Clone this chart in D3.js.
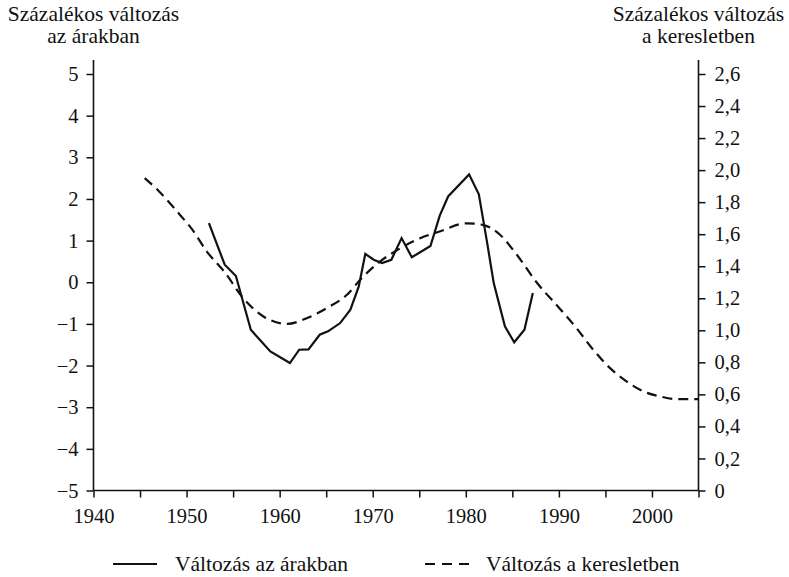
<!DOCTYPE html>
<html>
<head>
<meta charset="utf-8">
<script src="https://cdn.jsdelivr.net/npm/d3@7/dist/d3.min.js"></script>
<style>
  body { margin: 0; background: #fff; }
  svg text { font-family: 'Liberation Serif', 'DejaVu Serif', serif; fill: #111; }
</style>
</head>
<body>
<script>
    //Width and height
    var w = 789;
    var h = 577;
    var serif = "'Liberation Serif', 'DejaVu Serif', serif";

    //Data - price change (left axis)
    var priceYears = [1952.4, 1954.1, 1955.3, 1956.9, 1959.0, 1961.1, 1962.1, 1963.1, 1964.3, 1965.2,
                      1966.5, 1967.6, 1968.5, 1969.2, 1970.1, 1971.0, 1972.0, 1973.1, 1974.2, 1976.2,
                      1977.2, 1978.1, 1980.35, 1981.4, 1982.3, 1983.0, 1984.2, 1985.2, 1986.3, 1987.2];
    var priceValues = [1.42, 0.42, 0.15, -1.14, -1.66, -1.94, -1.62, -1.61, -1.26, -1.18,
                       -0.98, -0.66, -0.10, 0.68, 0.54, 0.46, 0.54, 1.06, 0.60, 0.87,
                       1.60, 2.06, 2.59, 2.11, 0.94, -0.02, -1.06, -1.44, -1.14, -0.26];

    //Data - demand change (right axis)
    var demandYears = [1945.5, 1947.0, 1949.3, 1950.6, 1952.2, 1954.0, 1956.1, 1958.3, 1960.8, 1962.9,
                       1965.1, 1967.2, 1968.8, 1970.8, 1972.9, 1975.1, 1977.1, 1980.1, 1981.9, 1983.7,
                       1985.5, 1987.6, 1990.1, 1991.9, 1993.7, 1995.5, 1997.3, 1999.1, 2000.9, 2002.7, 2005.0];
    var demandValues = [1.95, 1.87, 1.72, 1.63, 1.49, 1.37, 1.20, 1.085, 1.04, 1.075,
                        1.14, 1.22, 1.325, 1.43, 1.51, 1.575, 1.615, 1.668, 1.657, 1.595,
                        1.47, 1.30, 1.135, 1.013, 0.878, 0.764, 0.68, 0.618, 0.587, 0.57, 0.57];

    //Tick values
    var xTicks = [1940, 1945, 1950, 1955, 1960, 1965, 1970, 1975, 1980, 1985, 1990, 1995, 2000, 2005];
    var xLabels = [1940, 1950, 1960, 1970, 1980, 1990, 2000];
    var leftTicks = [-5, -4, -3, -2, -1, 0, 1, 2, 3, 4, 5];
    var rightTicks = [0, 0.2, 0.4, 0.6, 0.8, 1.0, 1.2, 1.4, 1.6, 1.8, 2.0, 2.2, 2.4, 2.6];

    var legendNames = ["Változás az árakban", "Változás a keresletben"];

    //Scales
    var x = d3.scaleLinear().domain([1940, 2005]).range([93.5, 698.5]);
    var yL = d3.scaleLinear().domain([-5, 5]).range([490.5, 74]);
    var yR = d3.scaleLinear().domain([0, 2.6]).range([490.5, 74]);

    //Create SVG element
    var svg = d3.select("body")
                .append("svg")
                .attr("width", w)
                .attr("height", h)
                .attr("font-family", serif);

    //axes
    var fmtLeft = function(d) { return d < 0 ? "\u2212" + Math.abs(d) : String(d); };
    var fmtRight = function(d) { return d === 0 ? "0" : d3.format(".1f")(d).replace(".", ","); };

    var gL = svg.append("g")
        .attr("transform", "translate(" + x(1940) + ",0)")
        .call(d3.axisLeft(yL).tickValues(leftTicks).tickSize(7).tickPadding(8).tickFormat(fmtLeft));

    var gR = svg.append("g")
        .attr("transform", "translate(" + x(2005) + ",0)")
        .call(d3.axisRight(yR).tickValues(rightTicks).tickSize(7).tickPadding(9).tickFormat(fmtRight));

    var gX = svg.append("g")
        .attr("transform", "translate(0," + yL(-5) + ")")
        .call(d3.axisBottom(x).tickValues(xTicks).tickSize(7).tickPadding(10.5)
              .tickFormat(function(d) { return xLabels.indexOf(d) >= 0 ? d : ""; }));

    [gL, gR, gX].forEach(function(g) {
        g.attr("font-family", serif);
        g.select(".domain").remove();
        g.selectAll(".tick line").attr("stroke", "#111").attr("stroke-width", 1.5);
        g.selectAll(".tick text").style("font-size", "20.5px").attr("fill", "#111")
         .style("font-family", serif);
    });

    //axis lines
    svg.append("line").attr("x1", x(1940)).attr("x2", x(1940)).attr("y1", 60).attr("y2", yL(-5))
       .attr("stroke", "#111").attr("stroke-width", 1.6);
    svg.append("line").attr("x1", x(2005)).attr("x2", x(2005)).attr("y1", 60).attr("y2", yL(-5))
       .attr("stroke", "#111").attr("stroke-width", 1.6);
    svg.append("line").attr("x1", x(1940)).attr("x2", x(2005)).attr("y1", yL(-5)).attr("y2", yL(-5))
       .attr("stroke", "#111").attr("stroke-width", 1.6);

    //axis titles, one text per line
    var titles = [
        { x: x(1940), lines: ["Százalékos változás", "az árakban"] },
        { x: x(2005), lines: ["Százalékos változás", "a keresletben"] }
    ];
    titles.forEach(function(t) {
        t.lines.forEach(function(s, i) {
            svg.append("text")
               .attr("x", t.x)
               .attr("y", 21 + i * 22)
               .attr("text-anchor", "middle")
               .style("font-size", "21.5px")
               .style("font-family", serif)
               .text(s);
        });
    });

    //lines
    var priceLine = d3.line()
        .x(function(d, i) { return x(priceYears[i]); })
        .y(function(d) { return yL(d); });

    var demandLine = d3.line()
        .curve(d3.curveMonotoneX)
        .x(function(d, i) { return x(demandYears[i]); })
        .y(function(d) { return yR(d); });

    svg.append("path")
       .attr("d", demandLine(demandValues))
       .attr("fill", "none")
       .attr("stroke", "#111")
       .attr("stroke-width", 2.2)
       .attr("stroke-dasharray", "10,6");

    svg.append("path")
       .attr("d", priceLine(priceValues))
       .attr("fill", "none")
       .attr("stroke", "#111")
       .attr("stroke-width", 2.2)
       .attr("stroke-linejoin", "miter");

    //legend
    var legY = 564;
    svg.append("line").attr("x1", 113).attr("x2", 157).attr("y1", legY).attr("y2", legY)
       .attr("stroke", "#111").attr("stroke-width", 2.2);
    svg.append("text").attr("x", 175).attr("y", legY + 7).style("font-size", "21.5px")
       .style("font-family", serif).text(legendNames[0]);

    svg.append("line").attr("x1", 425).attr("x2", 469).attr("y1", legY).attr("y2", legY)
       .attr("stroke", "#111").attr("stroke-width", 2.2).attr("stroke-dasharray", "10,7");
    svg.append("text").attr("x", 486).attr("y", legY + 7).style("font-size", "21.5px")
       .style("font-family", serif).text(legendNames[1]);
</script>
</body>
</html>
